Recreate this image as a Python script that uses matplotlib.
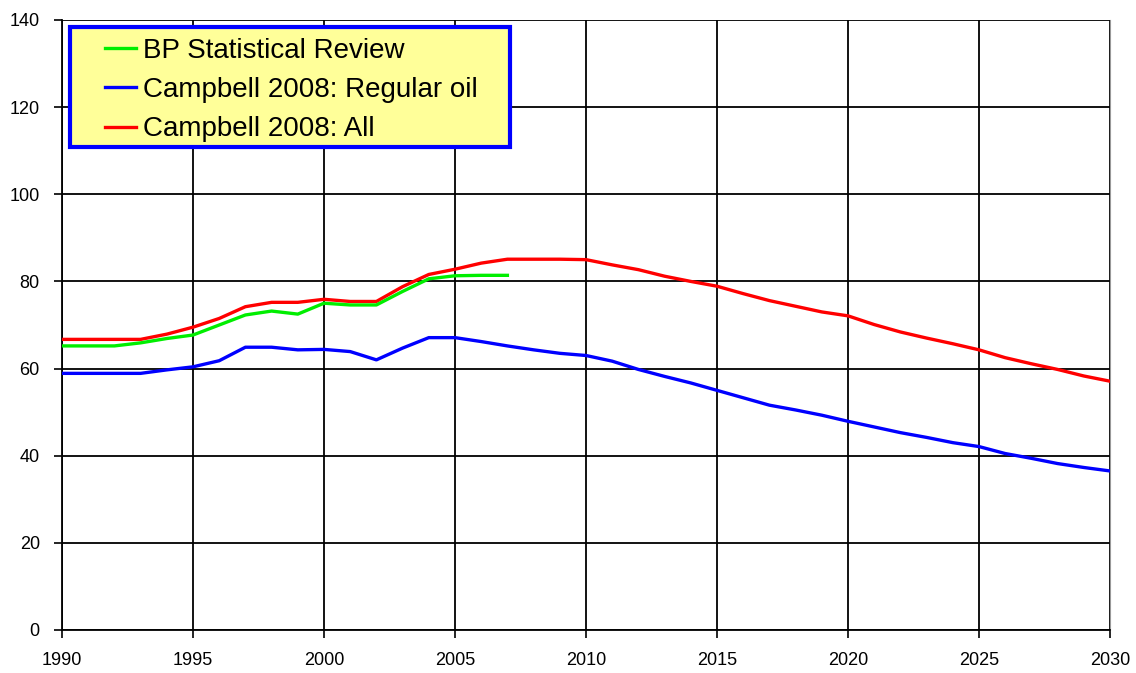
import matplotlib
matplotlib.use("Agg")
import matplotlib.pyplot as plt
from matplotlib.patches import Rectangle

plt.rcParams["font.family"] = ["Liberation Sans", "DejaVu Sans"]

years_bp = list(range(1990, 2008))
bp_review = [65.2, 65.2, 65.2, 65.9, 66.9, 67.7, 70.0, 72.3, 73.2, 72.5,
             75.0, 74.6, 74.6, 77.7, 80.6, 81.3, 81.4, 81.4]

years = list(range(1990, 2031))
regular_oil = [58.9, 58.9, 58.9, 58.9, 59.7, 60.4, 61.8, 64.9, 64.9, 64.3,
               64.4, 63.9, 62.0, 64.7, 67.1, 67.1, 66.2, 65.2, 64.3, 63.5,
               63.0, 61.7, 59.8, 58.2, 56.7, 55.0, 53.3, 51.6, 50.5, 49.3,
               47.9, 46.6, 45.3, 44.2, 43.0, 42.1, 40.5, 39.4, 38.2, 37.3,
               36.5]
all_liquids = [66.7, 66.7, 66.7, 66.7, 67.9, 69.5, 71.5, 74.2, 75.2, 75.2,
               75.9, 75.4, 75.4, 78.8, 81.6, 82.8, 84.2, 85.1, 85.1, 85.1,
               85.0, 83.8, 82.7, 81.2, 80.0, 78.9, 77.2, 75.6, 74.3, 73.0,
               72.1, 70.1, 68.4, 67.0, 65.7, 64.3, 62.5, 61.1, 59.8, 58.3,
               57.1]

labels = ["BP Statistical Review", "Campbell 2008: Regular oil", "Campbell 2008: All"]

fig = plt.figure(figsize=(11.36, 6.73), dpi=100)
ax = fig.add_axes([62 / 1136, 1 - 630 / 673, (1110 - 62) / 1136, 610 / 673])

ax.plot(years_bp, bp_review, color="#00ee00", lw=2.4, label=labels[0], zorder=4)
ax.plot(years, regular_oil, color="#0000ff", lw=2.4, label=labels[1], zorder=3)
ax.plot(years, all_liquids, color="#ff0000", lw=2.4, label=labels[2], zorder=3)

ax.set_xlim(1990, 2030)
ax.set_ylim(0, 140)
ax.set_xticks(range(1990, 2031, 5))
ax.set_yticks(range(0, 141, 20))
ax.grid(True, color="black", lw=1.3)
ax.set_axisbelow(True)

ax.spines["top"].set_visible(False)
ax.spines["right"].set_color("#999999")
ax.spines["left"].set_linewidth(1.3)
ax.spines["bottom"].set_linewidth(1.3)
ax.tick_params(axis="both", direction="out", length=6, width=1.2, labelsize=13)
ax.tick_params(axis="x", pad=10)
ax.tick_params(axis="y", pad=10)

# legend box (yellow with blue border), drawn separately for Excel-like padding
box = Rectangle((0.0076, 0.792), 0.42, 0.1965, transform=ax.transAxes,
                facecolor="#ffff99", edgecolor="#0000ff", lw=3, zorder=5)
ax.add_patch(box)

leg = ax.legend(loc="upper left", bbox_to_anchor=(0.041, 0.971), fontsize=20,
                frameon=False, handlelength=1.1, handletextpad=0.28,
                borderpad=0, labelspacing=0.48, borderaxespad=0)
leg.set_zorder(6)

fig.savefig("out.png", dpi=100)
